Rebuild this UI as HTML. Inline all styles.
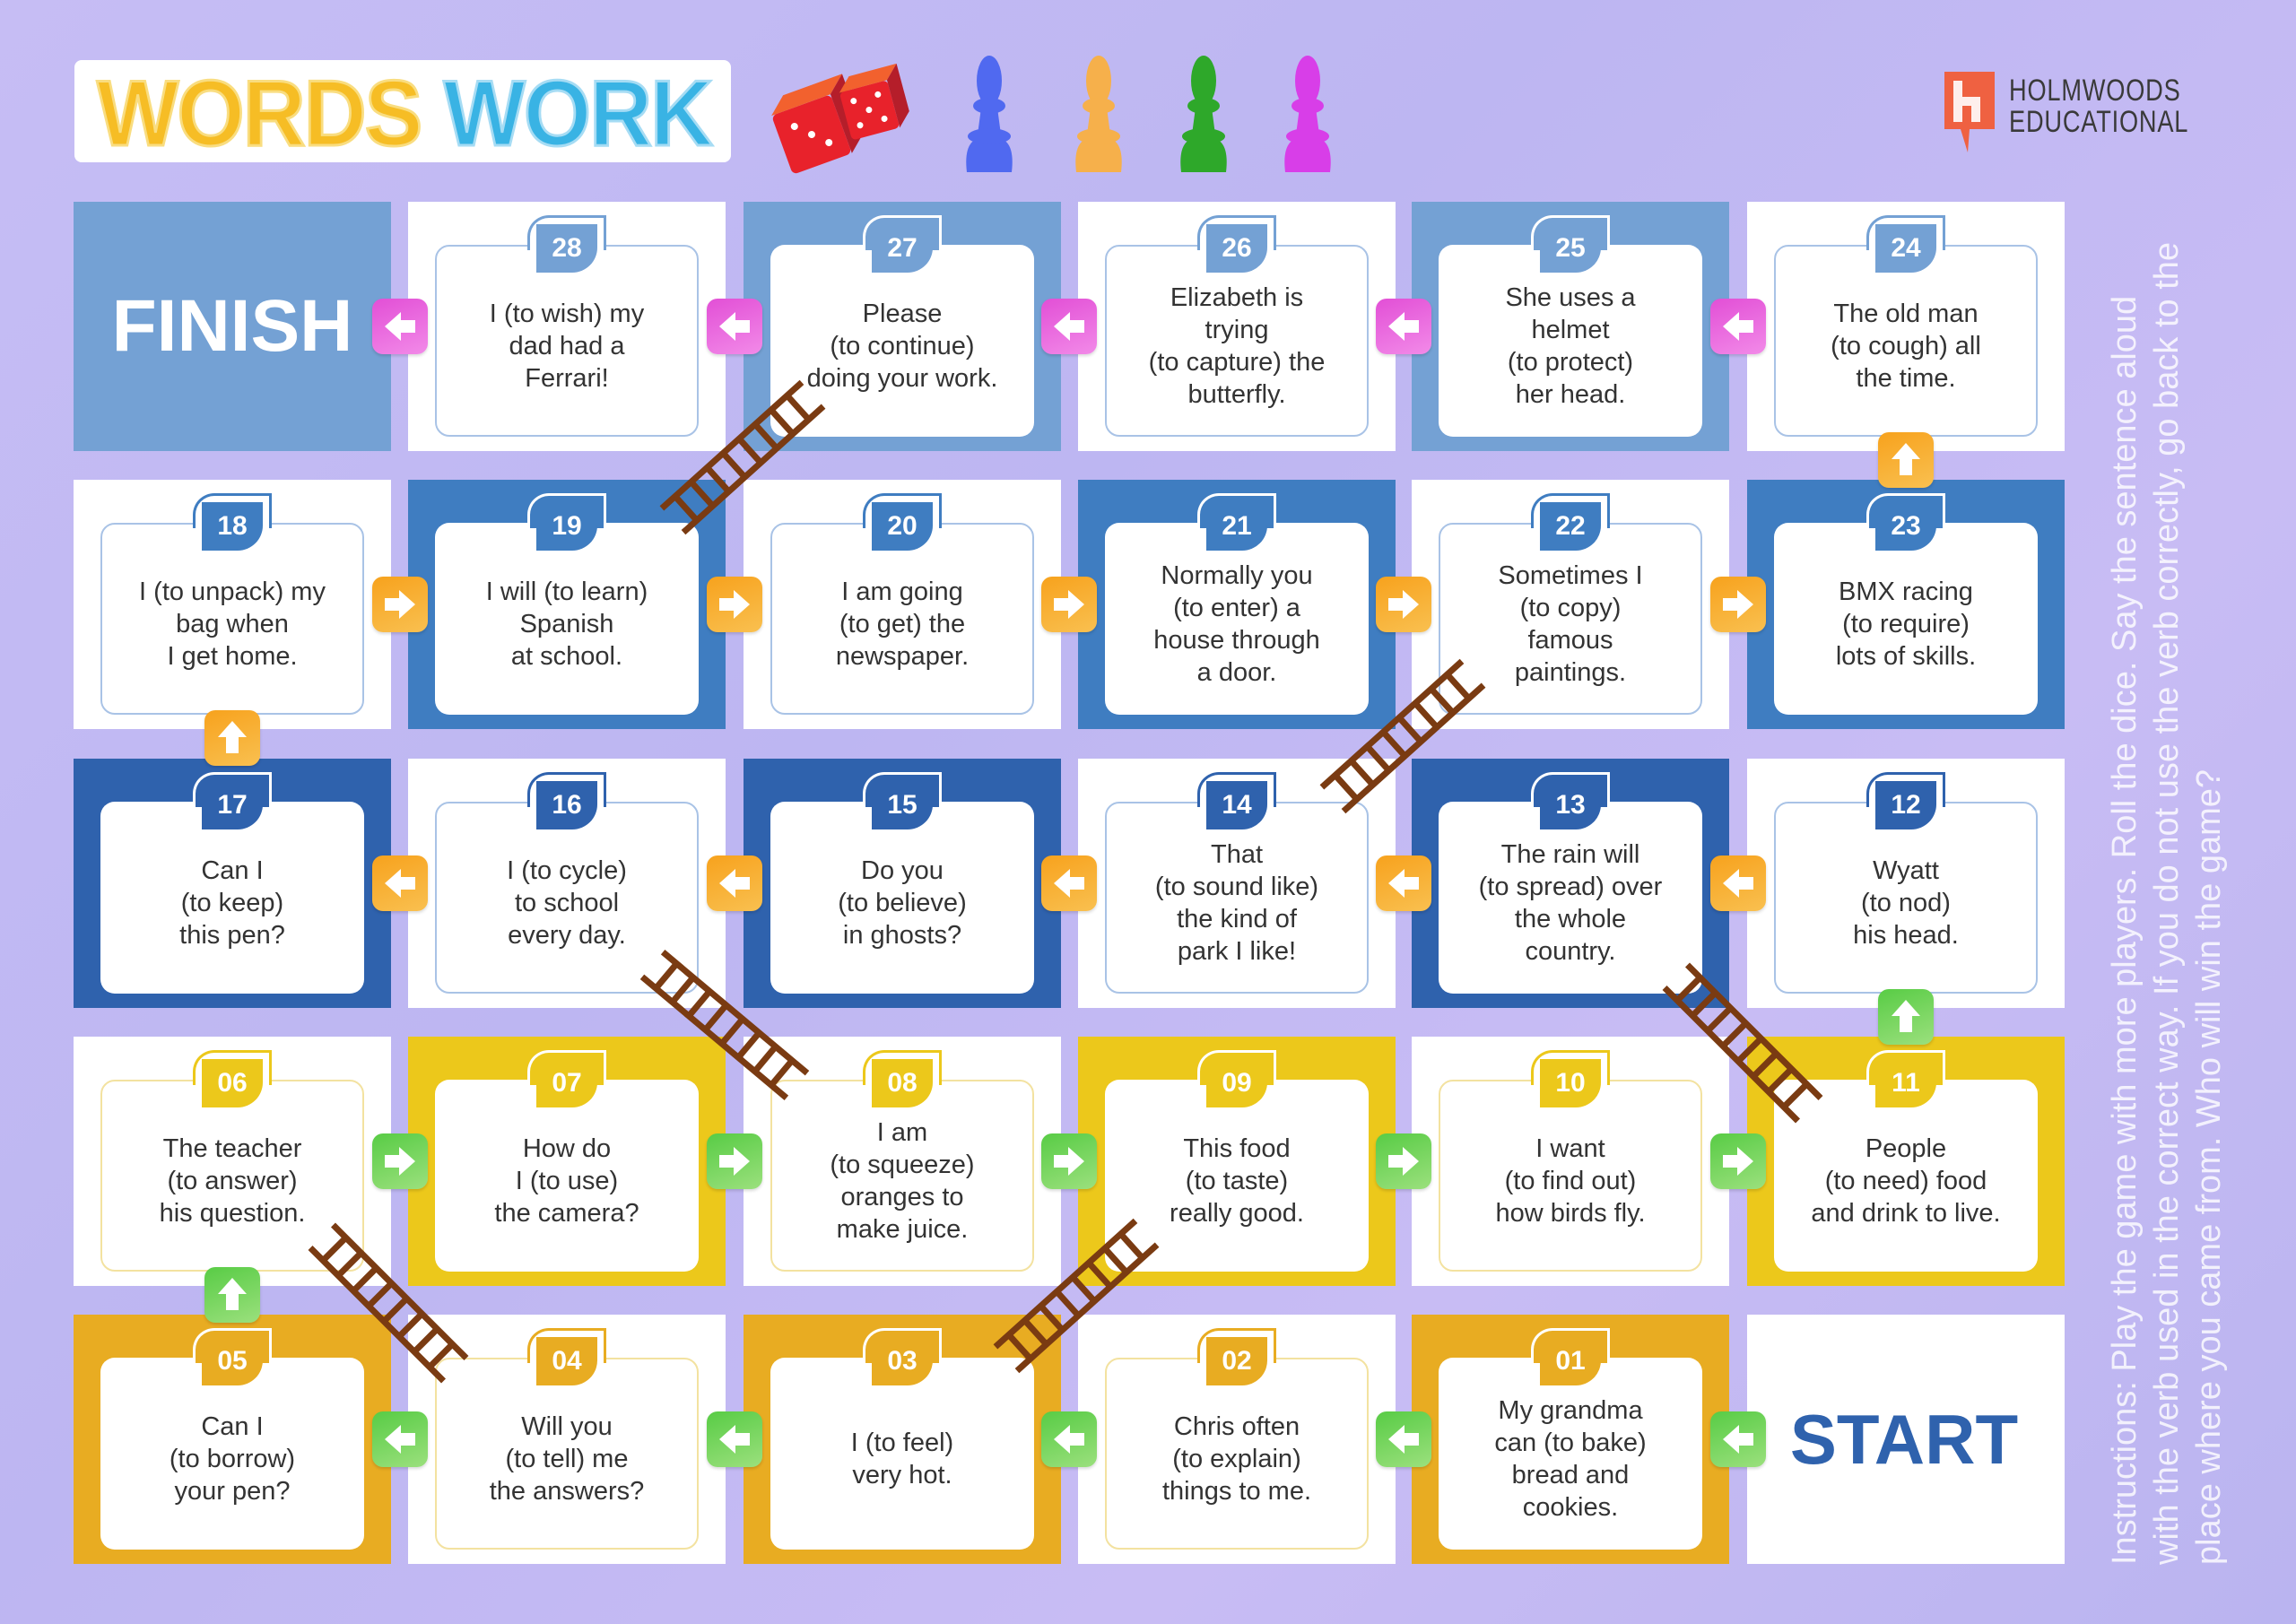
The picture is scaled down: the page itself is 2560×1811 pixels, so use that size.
<!DOCTYPE html>
<html><head><meta charset="utf-8"><style>
html,body{margin:0;padding:0}
body{width:2560px;height:1811px;position:relative;overflow:hidden;background:linear-gradient(135deg,#c6bdf4 0%,#bdb6f2 40%,#c8bcf4 70%,#bab4f0 100%);font-family:"Liberation Sans",sans-serif}
.t{position:absolute;width:354px;height:278px;background:#fff}
.c{position:absolute;left:30px;top:48px;width:294px;height:214px;border-radius:16px;background:#fff;display:flex;align-items:center;justify-content:center;text-align:center;font-size:29px;line-height:36px;color:#333;padding-top:12px;box-sizing:border-box}
.tab{position:absolute;left:133px;top:15px;width:82px;height:36px;border-radius:24px 0 0 0;z-index:2;border-width:3px;border-style:solid;border-bottom:none}
.n{position:absolute;left:143px;top:25px;width:68px;height:54px;border-radius:0 0 28px 0;color:#fff;font-weight:bold;font-size:30px;line-height:54px;text-align:center;z-index:3}
.w .c{border:2px solid var(--k)}
.w .tab{background:#fff;border-color:var(--k)}
.w .n{background:var(--k)}
.f .tab{background:var(--k);border-color:#fff}
.f .n{background:var(--k)}
.f{background:var(--k)}
.r1{--k:#74a1d4}.r2{--k:#3f7dc1}.r3{--k:#2f62ad}.r4{--k:#ecc81b}.r5{--k:#e8ac22}
.w.r4 .c,.w.r5 .c{border-color:#f3e2a0}
.w.r1 .c,.w.r2 .c,.w.r3 .c{border-color:#a9c3e6}
.a{position:absolute;width:62px;height:62px;border-radius:12px;z-index:5;box-shadow:0 2px 3px rgba(0,0,0,.15)}
.a svg{width:62px;height:62px;display:block}
.m{background:linear-gradient(160deg,#e24fd6,#f28ae8)}
.o{background:linear-gradient(160deg,#f7a21d,#f9c050)}
.g{background:linear-gradient(160deg,#58cc45,#9be07d)}
</style></head><body>

<!-- title -->
<div style="position:absolute;left:83px;top:67px;width:732px;height:114px;background:#fff;border-radius:8px"></div>
<div style="position:absolute;left:108px;top:72px;width:690px;height:110px;font-weight:bold;font-size:104px;line-height:110px;white-space:nowrap;letter-spacing:-2px;transform-origin:0 0;transform:scaleX(0.93)"><span style="color:#f6bd25;-webkit-text-stroke:3px #f9dd80">WORDS</span> <span style="color:#39b3e4;-webkit-text-stroke:3px #a6dcf4">WORK</span></div>

<!-- dice -->
<svg style="position:absolute;left:845px;top:70px" width="170" height="125" viewBox="0 0 170 125">
<g transform="rotate(-20 60 80)"><rect x="25" y="45" width="70" height="70" rx="6" fill="#e8222b"/><polygon points="25,45 45,28 115,28 95,45" fill="#f2612e"/><polygon points="95,45 115,28 115,98 95,115" fill="#b51e2a"/>
<circle cx="45" cy="65" r="4" fill="#fff"/><circle cx="60" cy="80" r="4" fill="#fff"/><circle cx="75" cy="95" r="4" fill="#fff"/></g>
<g transform="rotate(-15 125 45)"><rect x="95" y="25" width="55" height="55" rx="5" fill="#e8222b"/><polygon points="95,25 110,10 165,10 150,25" fill="#f2612e"/><polygon points="150,25 165,10 165,65 150,80" fill="#b51e2a"/>
<circle cx="108" cy="38" r="3.5" fill="#fff"/><circle cx="122" cy="52" r="3.5" fill="#fff"/><circle cx="136" cy="66" r="3.5" fill="#fff"/><circle cx="136" cy="38" r="3.5" fill="#fff"/><circle cx="108" cy="66" r="3.5" fill="#fff"/></g>
</svg>

<!-- pawns -->
<svg style="position:absolute;left:1050px;top:60px" width="460" height="135" viewBox="0 0 460 135">
<defs><g id="p"><ellipse cx="53" cy="30" rx="14" ry="28" fill="currentColor"/><ellipse cx="53" cy="58" rx="18" ry="9" fill="currentColor"/><path d="M44 60 L62 60 L68 105 L38 105 Z" fill="currentColor"/><path d="M28 132 Q24 98 42 94 L64 94 Q82 98 78 132 Z" fill="currentColor"/><ellipse cx="53" cy="92" rx="24" ry="9" fill="currentColor"/></g></defs>
<use href="#p" style="color:#5069f0"/>
<use href="#p" x="122" style="color:#f6b04b"/>
<use href="#p" x="239" style="color:#2ea82a"/>
<use href="#p" x="355" style="color:#d83ee8"/>
</svg>

<!-- logo -->
<svg style="position:absolute;left:2166px;top:78px" width="60" height="92" viewBox="0 0 60 92">
<path d="M2 2 H58 V66 H30 L28 92 L20 66 H2 Z" fill="#ef6141"/>
<path d="M12 12 H22 V30 H42 V58 H32 V40 H22 V58 H12 Z" fill="#fff" opacity=".9"/>
</svg>
<div style="position:absolute;left:2240px;top:84px;font-size:34px;line-height:35px;color:#3a3a3a;transform:scaleX(0.8);transform-origin:0 0;letter-spacing:1px">HOLMWOODS<br>EDUCATIONAL</div>

<!-- instructions -->
<div style="position:absolute;left:2346px;top:1745px;width:1600px;transform-origin:0 0;transform:rotate(-90deg);color:rgba(255,255,255,.8);font-size:38px;line-height:47px;white-space:nowrap">Instructions: Play the game with more players. Roll the dice. Say the sentence aloud<br>with the verb used in the correct way. If you do not use the verb correctly, go back to the<br>place where you came from. Who will win the game?</div>

<!-- Row 1 -->
<div class="t f r1" style="left:82px;top:225px"><div style="position:absolute;left:0;top:0;width:354px;height:278px;display:flex;align-items:center;justify-content:center;color:#fff;font-weight:bold;font-size:82px">FINISH</div></div>
<div class="t w r1" style="left:455px;top:225px"><div class="tab"></div><div class="n">28</div><div class="c">I (to wish) my<br>dad had a<br>Ferrari!</div></div>
<div class="t f r1" style="left:829px;top:225px"><div class="tab"></div><div class="n">27</div><div class="c">Please<br>(to continue)<br>doing your work.</div></div>
<div class="t w r1" style="left:1202px;top:225px"><div class="tab"></div><div class="n">26</div><div class="c">Elizabeth is<br>trying<br>(to capture) the<br>butterfly.</div></div>
<div class="t f r1" style="left:1574px;top:225px"><div class="tab"></div><div class="n">25</div><div class="c">She uses a<br>helmet<br>(to protect)<br>her head.</div></div>
<div class="t w r1" style="left:1948px;top:225px"><div class="tab"></div><div class="n">24</div><div class="c">The old man<br>(to cough) all<br>the time.</div></div>

<!-- Row 2 -->
<div class="t w r2" style="left:82px;top:535px"><div class="tab"></div><div class="n">18</div><div class="c">I (to unpack) my<br>bag when<br>I get home.</div></div>
<div class="t f r2" style="left:455px;top:535px"><div class="tab"></div><div class="n">19</div><div class="c">I will (to learn)<br>Spanish<br>at school.</div></div>
<div class="t w r2" style="left:829px;top:535px"><div class="tab"></div><div class="n">20</div><div class="c">I am going<br>(to get) the<br>newspaper.</div></div>
<div class="t f r2" style="left:1202px;top:535px"><div class="tab"></div><div class="n">21</div><div class="c">Normally you<br>(to enter) a<br>house through<br>a door.</div></div>
<div class="t w r2" style="left:1574px;top:535px"><div class="tab"></div><div class="n">22</div><div class="c">Sometimes I<br>(to copy)<br>famous<br>paintings.</div></div>
<div class="t f r2" style="left:1948px;top:535px"><div class="tab"></div><div class="n">23</div><div class="c">BMX racing<br>(to require)<br>lots of skills.</div></div>

<!-- Row 3 -->
<div class="t f r3" style="left:82px;top:846px"><div class="tab"></div><div class="n">17</div><div class="c">Can I<br>(to keep)<br>this pen?</div></div>
<div class="t w r3" style="left:455px;top:846px"><div class="tab"></div><div class="n">16</div><div class="c">I (to cycle)<br>to school<br>every day.</div></div>
<div class="t f r3" style="left:829px;top:846px"><div class="tab"></div><div class="n">15</div><div class="c">Do you<br>(to believe)<br>in ghosts?</div></div>
<div class="t w r3" style="left:1202px;top:846px"><div class="tab"></div><div class="n">14</div><div class="c">That<br>(to sound like)<br>the kind of<br>park I like!</div></div>
<div class="t f r3" style="left:1574px;top:846px"><div class="tab"></div><div class="n">13</div><div class="c">The rain will<br>(to spread) over<br>the whole<br>country.</div></div>
<div class="t w r3" style="left:1948px;top:846px"><div class="tab"></div><div class="n">12</div><div class="c">Wyatt<br>(to nod)<br>his head.</div></div>

<!-- Row 4 -->
<div class="t w r4" style="left:82px;top:1156px"><div class="tab"></div><div class="n">06</div><div class="c">The teacher<br>(to answer)<br>his question.</div></div>
<div class="t f r4" style="left:455px;top:1156px"><div class="tab"></div><div class="n">07</div><div class="c">How do<br>I (to use)<br>the camera?</div></div>
<div class="t w r4" style="left:829px;top:1156px"><div class="tab"></div><div class="n">08</div><div class="c">I am<br>(to squeeze)<br>oranges to<br>make juice.</div></div>
<div class="t f r4" style="left:1202px;top:1156px"><div class="tab"></div><div class="n">09</div><div class="c">This food<br>(to taste)<br>really good.</div></div>
<div class="t w r4" style="left:1574px;top:1156px"><div class="tab"></div><div class="n">10</div><div class="c">I want<br>(to find out)<br>how birds fly.</div></div>
<div class="t f r4" style="left:1948px;top:1156px"><div class="tab"></div><div class="n">11</div><div class="c">People<br>(to need) food<br>and drink to live.</div></div>

<!-- Row 5 -->
<div class="t f r5" style="left:82px;top:1466px"><div class="tab"></div><div class="n">05</div><div class="c">Can I<br>(to borrow)<br>your pen?</div></div>
<div class="t w r5" style="left:455px;top:1466px"><div class="tab"></div><div class="n">04</div><div class="c">Will you<br>(to tell) me<br>the answers?</div></div>
<div class="t f r5" style="left:829px;top:1466px"><div class="tab"></div><div class="n">03</div><div class="c">I (to feel)<br>very hot.</div></div>
<div class="t w r5" style="left:1202px;top:1466px"><div class="tab"></div><div class="n">02</div><div class="c">Chris often<br>(to explain)<br>things to me.</div></div>
<div class="t f r5" style="left:1574px;top:1466px"><div class="tab"></div><div class="n">01</div><div class="c">My grandma<br>can (to bake)<br>bread and<br>cookies.</div></div>
<div class="t" style="left:1948px;top:1466px"><div style="position:absolute;left:30px;top:0;width:290px;height:278px;display:flex;align-items:center;justify-content:center;color:#2f62ad;font-weight:bold;font-size:78px">START</div></div>

<!-- ladders -->
<svg style="position:absolute;left:0;top:0;z-index:4" width="2560" height="1811" viewBox="0 0 2560 1811">
<defs><g id="lad" stroke="#7a3b12" stroke-width="7" fill="none">
<line x1="-105" y1="-18" x2="105" y2="-18"/><line x1="-105" y1="18" x2="105" y2="18"/>
<line x1="-85" y1="-18" x2="-85" y2="18"/><line x1="-61" y1="-18" x2="-61" y2="18"/><line x1="-37" y1="-18" x2="-37" y2="18"/><line x1="-13" y1="-18" x2="-13" y2="18"/><line x1="11" y1="-18" x2="11" y2="18"/><line x1="35" y1="-18" x2="35" y2="18"/><line x1="59" y1="-18" x2="59" y2="18"/><line x1="83" y1="-18" x2="83" y2="18"/>
</g></defs>
<use href="#lad" transform="translate(828 510) rotate(-42)"/>
<use href="#lad" transform="translate(1564 821) rotate(-42)"/>
<use href="#lad" transform="translate(808 1143) rotate(40)"/>
<use href="#lad" transform="translate(1943 1163) rotate(45)"/>
<use href="#lad" transform="translate(433 1453) rotate(45)"/>
<use href="#lad" transform="translate(1200 1445) rotate(-42)"/>
</svg>

<!-- arrows row1 (left, magenta) -->
<div class="a m" style="left:415px;top:333px"><svg viewBox="0 0 62 62"><path d="M14 31 L32 15 L32 24 L48 24 L48 38 L32 38 L32 47 Z" fill="#fff"/></svg></div>
<div class="a m" style="left:788px;top:333px"><svg viewBox="0 0 62 62"><path d="M14 31 L32 15 L32 24 L48 24 L48 38 L32 38 L32 47 Z" fill="#fff"/></svg></div>
<div class="a m" style="left:1161px;top:333px"><svg viewBox="0 0 62 62"><path d="M14 31 L32 15 L32 24 L48 24 L48 38 L32 38 L32 47 Z" fill="#fff"/></svg></div>
<div class="a m" style="left:1534px;top:333px"><svg viewBox="0 0 62 62"><path d="M14 31 L32 15 L32 24 L48 24 L48 38 L32 38 L32 47 Z" fill="#fff"/></svg></div>
<div class="a m" style="left:1907px;top:333px"><svg viewBox="0 0 62 62"><path d="M14 31 L32 15 L32 24 L48 24 L48 38 L32 38 L32 47 Z" fill="#fff"/></svg></div>
<!-- row2 right orange -->
<div class="a o" style="left:415px;top:643px"><svg viewBox="0 0 62 62"><path d="M48 31 L30 15 L30 24 L14 24 L14 38 L30 38 L30 47 Z" fill="#fff"/></svg></div>
<div class="a o" style="left:788px;top:643px"><svg viewBox="0 0 62 62"><path d="M48 31 L30 15 L30 24 L14 24 L14 38 L30 38 L30 47 Z" fill="#fff"/></svg></div>
<div class="a o" style="left:1161px;top:643px"><svg viewBox="0 0 62 62"><path d="M48 31 L30 15 L30 24 L14 24 L14 38 L30 38 L30 47 Z" fill="#fff"/></svg></div>
<div class="a o" style="left:1534px;top:643px"><svg viewBox="0 0 62 62"><path d="M48 31 L30 15 L30 24 L14 24 L14 38 L30 38 L30 47 Z" fill="#fff"/></svg></div>
<div class="a o" style="left:1907px;top:643px"><svg viewBox="0 0 62 62"><path d="M48 31 L30 15 L30 24 L14 24 L14 38 L30 38 L30 47 Z" fill="#fff"/></svg></div>
<!-- row3 left orange -->
<div class="a o" style="left:415px;top:954px"><svg viewBox="0 0 62 62"><path d="M14 31 L32 15 L32 24 L48 24 L48 38 L32 38 L32 47 Z" fill="#fff"/></svg></div>
<div class="a o" style="left:788px;top:954px"><svg viewBox="0 0 62 62"><path d="M14 31 L32 15 L32 24 L48 24 L48 38 L32 38 L32 47 Z" fill="#fff"/></svg></div>
<div class="a o" style="left:1161px;top:954px"><svg viewBox="0 0 62 62"><path d="M14 31 L32 15 L32 24 L48 24 L48 38 L32 38 L32 47 Z" fill="#fff"/></svg></div>
<div class="a o" style="left:1534px;top:954px"><svg viewBox="0 0 62 62"><path d="M14 31 L32 15 L32 24 L48 24 L48 38 L32 38 L32 47 Z" fill="#fff"/></svg></div>
<div class="a o" style="left:1907px;top:954px"><svg viewBox="0 0 62 62"><path d="M14 31 L32 15 L32 24 L48 24 L48 38 L32 38 L32 47 Z" fill="#fff"/></svg></div>
<!-- row4 right green -->
<div class="a g" style="left:415px;top:1264px"><svg viewBox="0 0 62 62"><path d="M48 31 L30 15 L30 24 L14 24 L14 38 L30 38 L30 47 Z" fill="#fff"/></svg></div>
<div class="a g" style="left:788px;top:1264px"><svg viewBox="0 0 62 62"><path d="M48 31 L30 15 L30 24 L14 24 L14 38 L30 38 L30 47 Z" fill="#fff"/></svg></div>
<div class="a g" style="left:1161px;top:1264px"><svg viewBox="0 0 62 62"><path d="M48 31 L30 15 L30 24 L14 24 L14 38 L30 38 L30 47 Z" fill="#fff"/></svg></div>
<div class="a g" style="left:1534px;top:1264px"><svg viewBox="0 0 62 62"><path d="M48 31 L30 15 L30 24 L14 24 L14 38 L30 38 L30 47 Z" fill="#fff"/></svg></div>
<div class="a g" style="left:1907px;top:1264px"><svg viewBox="0 0 62 62"><path d="M48 31 L30 15 L30 24 L14 24 L14 38 L30 38 L30 47 Z" fill="#fff"/></svg></div>
<!-- row5 left green -->
<div class="a g" style="left:415px;top:1574px"><svg viewBox="0 0 62 62"><path d="M14 31 L32 15 L32 24 L48 24 L48 38 L32 38 L32 47 Z" fill="#fff"/></svg></div>
<div class="a g" style="left:788px;top:1574px"><svg viewBox="0 0 62 62"><path d="M14 31 L32 15 L32 24 L48 24 L48 38 L32 38 L32 47 Z" fill="#fff"/></svg></div>
<div class="a g" style="left:1161px;top:1574px"><svg viewBox="0 0 62 62"><path d="M14 31 L32 15 L32 24 L48 24 L48 38 L32 38 L32 47 Z" fill="#fff"/></svg></div>
<div class="a g" style="left:1534px;top:1574px"><svg viewBox="0 0 62 62"><path d="M14 31 L32 15 L32 24 L48 24 L48 38 L32 38 L32 47 Z" fill="#fff"/></svg></div>
<div class="a g" style="left:1907px;top:1574px"><svg viewBox="0 0 62 62"><path d="M14 31 L32 15 L32 24 L48 24 L48 38 L32 38 L32 47 Z" fill="#fff"/></svg></div>
<!-- vertical up arrows -->
<div class="a o" style="left:2094px;top:482px"><svg viewBox="0 0 62 62"><path d="M31 12 L47 30 L38 30 L38 48 L24 48 L24 30 L15 30 Z" fill="#fff"/></svg></div>
<div class="a o" style="left:228px;top:792px"><svg viewBox="0 0 62 62"><path d="M31 12 L47 30 L38 30 L38 48 L24 48 L24 30 L15 30 Z" fill="#fff"/></svg></div>
<div class="a g" style="left:2094px;top:1103px"><svg viewBox="0 0 62 62"><path d="M31 12 L47 30 L38 30 L38 48 L24 48 L24 30 L15 30 Z" fill="#fff"/></svg></div>
<div class="a g" style="left:228px;top:1413px"><svg viewBox="0 0 62 62"><path d="M31 12 L47 30 L38 30 L38 48 L24 48 L24 30 L15 30 Z" fill="#fff"/></svg></div>

</body></html>
